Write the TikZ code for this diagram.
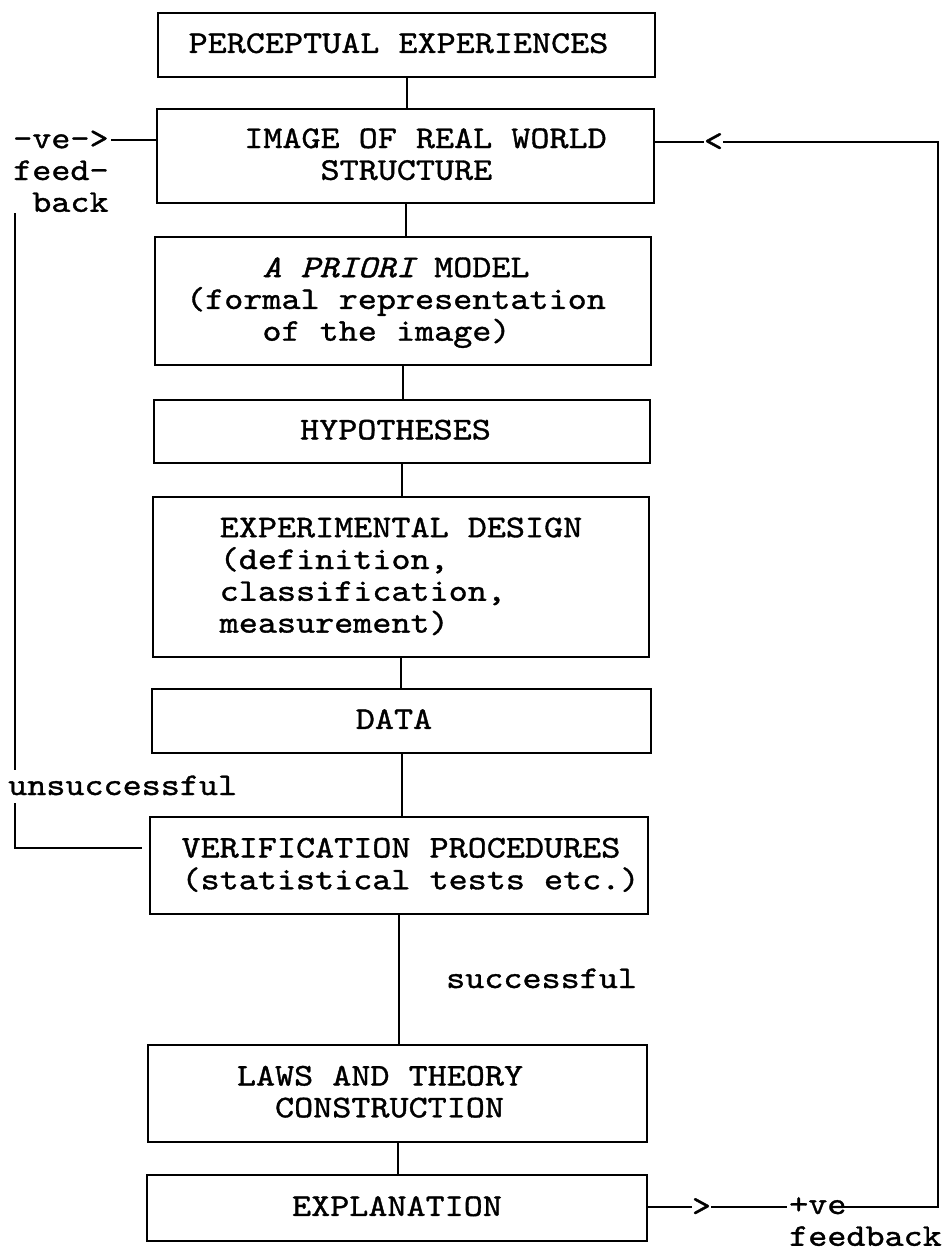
\documentclass[tikz,border=0pt]{standalone}
\usepackage{fontspec}
\newfontfamily\mono{lmmono10-regular.otf}[FakeStretch=1.15, FakeBold=1.1]
\newfontfamily\monoit{lmmono10-italic.otf}[FakeStretch=1.15, FakeBold=1.3]
\newcommand\st{\rule[-8pt]{0pt}{31.8pt}}
\newcommand\ind[1]{\rule{#1\dimexpr 19.08pt\relax}{0pt}}
\newcommand\pad[1]{\rule{#1pt}{0pt}}
\begin{document}
\begin{tikzpicture}[x=1pt,y=-1pt,
  every node/.style={font=\mono\fontsize{31.6}{31.8}\selectfont, inner sep=0pt},
  box/.style={draw, line width=2.5pt, align=left},
  conn/.style={line width=2pt},
  lbl/.style={align=left}]
\useasboundingbox (0,0) rectangle (943,1251);

% boxes
\node[box, minimum width=497, minimum height=64] (perc) at (406.5,45) {\st PERCEPTUAL EXPERIENCES\pad{16}};
\node[box, minimum width=497, minimum height=94] (img) at (405.5,156) {\pad{40}\st IMAGE OF REAL WORLD\\\pad{40}\st\ind{4}STRUCTURE};
\node[box, minimum width=496, minimum height=128] (apr) at (403,301) {\st\ind{4}{\monoit A PRIORI} MODEL\\\st(formal representation\pad{14}\\\st\ind{4}of the image)};
\node[box, minimum width=496, minimum height=63] (hyp) at (402,431.5) {\st HYPOTHESES\pad{13}};
\node[box, minimum width=496, minimum height=160] (exp) at (401,577) {\st EXPERIMENTAL DESIGN\\\st(definition,\\\st classification,\\\st measurement)};
\node[box, minimum width=499, minimum height=64] (data) at (401.5,721) {\st DATA\pad{15}};
\node[box, minimum width=498, minimum height=97] (ver) at (399,865.5) {\pad{23}\st VERIFICATION PROCEDURES\\\pad{23}\st(statistical tests etc.)};
\node[box, minimum width=499, minimum height=97] (laws) at (397.5,1093.5) {\st LAWS AND THEORY\pad{35}\\\st\ind{2}CONSTRUCTION};
\node[box, minimum width=500, minimum height=66] (expl) at (397,1208) {\st EXPLANATION};

% main chain
\foreach \a/\b in {perc/img, img/apr, apr/hyp, hyp/exp, exp/data, data/ver, ver/laws, laws/expl}
  \draw[conn] (\a.south) -- (\a.south |- \b.north);

% negative feedback
\node[lbl, anchor=north west] (neg) at (13,124.2) {\st-ve->\\\st feed-\\\st\ind{1}back};
\coordinate (negE) at (111,140);
\draw[conn] (negE) -- (negE -| img.west);
\node[anchor=base west] (uns) at (8,795) {unsuccessful};
\coordinate (fbTop) at (15,213);
\coordinate (fbMid) at (15,770);
\coordinate (fbLow) at (15,803);
\coordinate (fbEnd) at (142,848);
\draw[conn] (fbTop) -- (fbMid);
\draw[conn] (fbLow) |- (fbEnd);

% successful
\node[anchor=base west] (suc) at (446,988) {successful};

% positive feedback
\node (gt) at (701.5,1207) {>};
\node[lbl, anchor=north west] (pos) at (789,1190) {\st+ve\\\st feedback};
\coordinate (pvL) at (787,1207);
\coordinate (pvR) at (841,1207);
\coordinate (rc) at (938,1207);
\coordinate (rt) at (938,142);
\node (lt) at (713.5,142) {<};
\draw[conn] (expl.east |- gt) -- (gt.west);
\draw[conn] (gt.east) -- (pvL);
\draw[conn] (pvR) -- (rc) -- (rt) -- (lt.east);
\draw[conn] (lt.west) -- (img.east |- lt);
\end{tikzpicture}
\end{document}
